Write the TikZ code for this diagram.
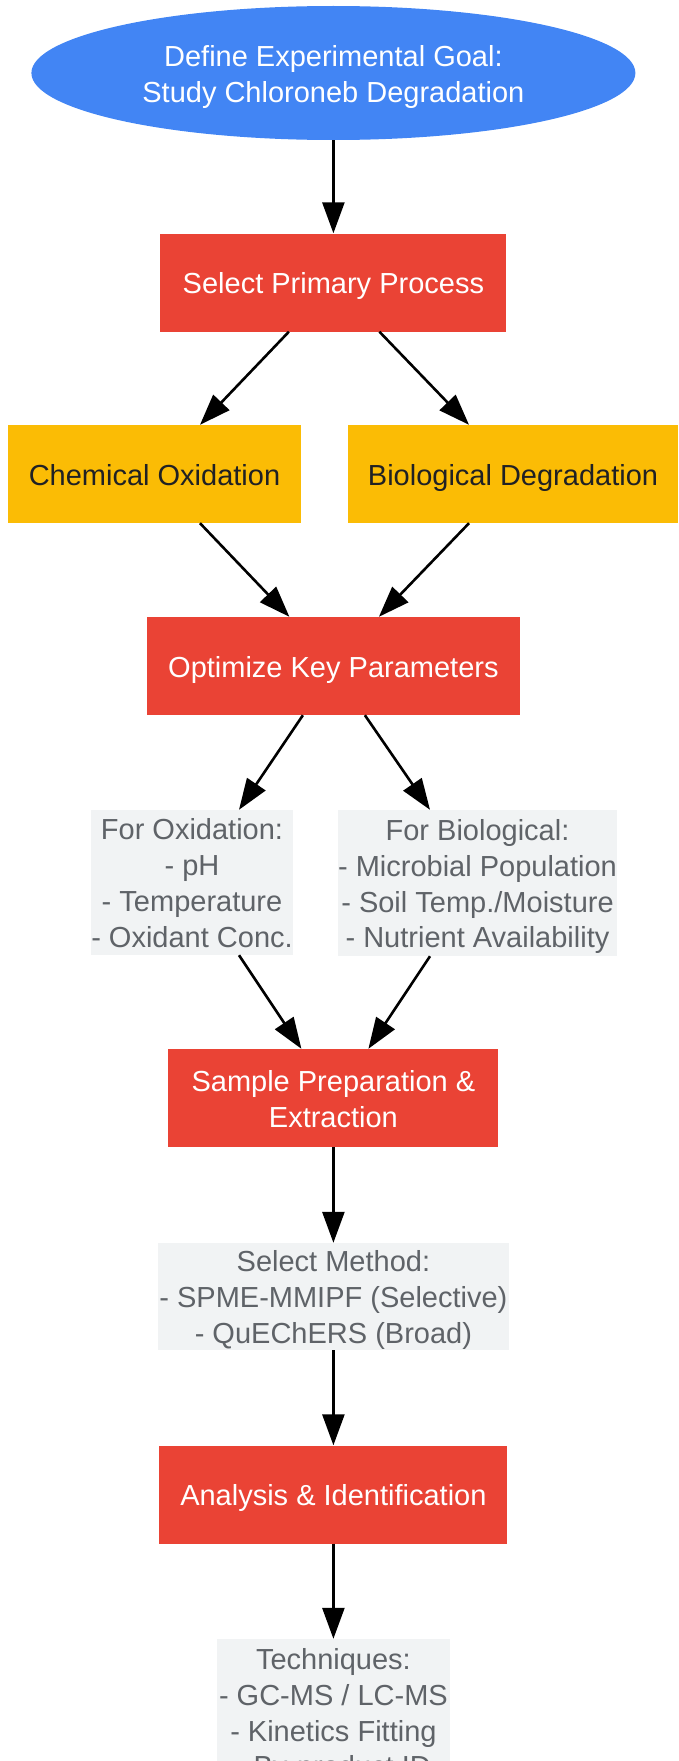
\documentclass[tikz,border=0pt]{standalone}
\usepackage{fontspec}
\setmainfont{Liberation Sans}
\usetikzlibrary{arrows.meta,calc,shapes.geometric}
\definecolor{gblue}{HTML}{4285F4}
\definecolor{gred}{HTML}{EA4335}
\definecolor{gyellow}{HTML}{FBBC05}
\definecolor{ggray}{HTML}{F1F3F4}
\definecolor{gtext}{HTML}{5F6368}
\definecolor{gdark}{HTML}{202124}
\newcommand\mytopstrut{\rule{0pt}{28.5pt}}
\newcommand\mybotstrut{\rule[-6.15pt]{0pt}{0pt}}
\tikzset{
  base/.style={inner sep=0pt, align=center, font=\fontsize{29}{35.8}\selectfont,
    execute at begin node=\mytopstrut, execute at end node=\mybotstrut},
  goalnode/.style={base, ellipse, fill=gblue, text=white, minimum width=604pt, minimum height=134pt},
  redbox/.style={base, rectangle, fill=gred, text=white, minimum height=98pt},
  yelbox/.style={base, rectangle, fill=gyellow, text=gdark, minimum height=98pt},
  graybox/.style={base, rectangle, fill=ggray, text=gtext},
  conn/.style={line width=2.6pt, -{Triangle[length=31pt,width=22pt]}}
}
\begin{document}
\begin{tikzpicture}[x=1pt,y=-1pt]
\useasboundingbox (0,0) rectangle (678,1761);
\node[goalnode] (goal) at (333.4,73) {\mytopstrut Define Experimental Goal:\\Study Chloroneb Degradation};
\node[redbox, minimum width=346pt] (sel) at (333.4,282.5) {Select Primary Process};
\node[yelbox, minimum width=293pt] (chem) at (154.5,474) {Chemical Oxidation};
\node[yelbox, minimum width=330pt] (bio) at (513,474) {Biological Degradation};
\node[redbox, minimum width=373pt] (opt) at (333.4,666) {Optimize Key Parameters};
\node[graybox, minimum width=202pt, minimum height=145pt] (ox) at (192,882.5) {\mytopstrut For Oxidation:\\- pH\\- Temperature\\- Oxidant Conc.};
\node[graybox, minimum width=277pt, minimum height=146pt] (biop) at (477.5,883) {\mytopstrut For Biological:\\- Microbial Population\\- Soil Temp./Moisture\\- Nutrient Availability};
\node[redbox, minimum width=330pt] (samp) at (333.4,1098) {\mytopstrut Sample Preparation \&\\Extraction};
\node[graybox, minimum width=351pt, minimum height=107pt] (meth) at (333.4,1296.5) {\mytopstrut Select Method:\\- SPME-MMIPF (Selective)\\- QuEChERS (Broad)};
\node[redbox, minimum width=348pt] (ana) at (333.4,1494.5) {Analysis \& Identification};
\node[graybox, minimum width=233pt, minimum height=146pt] (tech) at (333.4,1712) {\mytopstrut Techniques:\\- GC-MS / LC-MS\\- Kinetics Fitting\\- By-product ID};

\draw[conn] (goal.south) -- (sel.north);
\draw[conn] ($(sel.south)+(-44.5,0)$) -- ($(chem.north)+(45.5,0)$);
\draw[conn] ($(sel.south)+(46,0)$) -- ($(bio.north)+(-44,0)$);
\draw[conn] ($(chem.south)+(45.5,0)$) -- ($(opt.north)+(-44,0)$);
\draw[conn] ($(bio.south)+(-44,0)$) -- ($(opt.north)+(45.5,0)$);
\draw[conn] ($(opt.south)+(-30.5,0)$) -- ($(ox.north)+(47,0)$);
\draw[conn] ($(opt.south)+(31.5,0)$) -- ($(biop.north)+(-47.5,0)$);
\draw[conn] ($(ox.south)+(47,0)$) -- ($(samp.north)+(-32,0)$);
\draw[conn] ($(biop.south)+(-47.5,0)$) -- ($(samp.north)+(35,0)$);
\draw[conn] (samp.south) -- (meth.north);
\draw[conn] (meth.south) -- (ana.north);
\draw[conn] (ana.south) -- (tech.north);
\end{tikzpicture}
\end{document}
